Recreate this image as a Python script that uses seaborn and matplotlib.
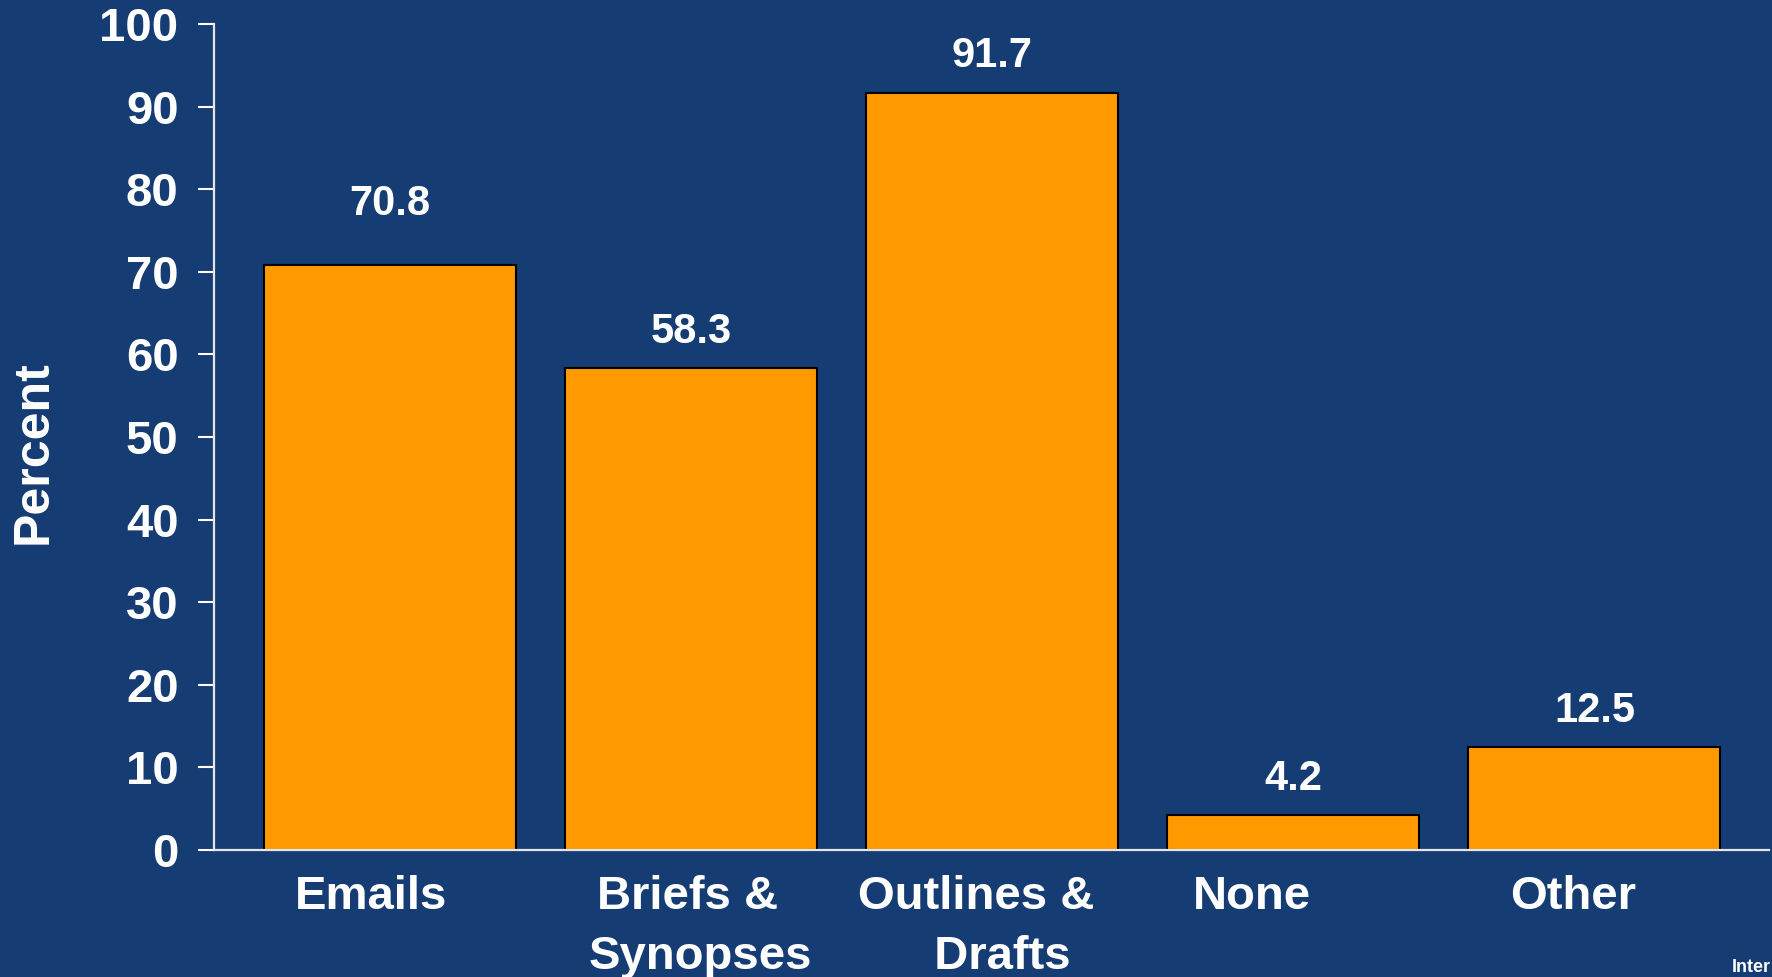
import matplotlib
matplotlib.use("Agg")
import matplotlib.pyplot as plt
import matplotlib.transforms as mtransforms
import seaborn as sns
import pandas as pd

categories = ["Emails", "Briefs &  \nSynopses", "Outlines &  \n  Drafts", "None", "Other"]
values = [70.8, 58.3, 91.7, 4.2, 12.5]
yticks = [0, 10, 20, 30, 40, 50, 60, 70, 80, 90, 100]

BG = "#163C74"
BAR = "#FF9900"

sns.set_theme(style="white")
plt.rcParams["font.family"] = ["Liberation Sans", "DejaVu Sans"]
plt.rcParams["font.weight"] = "bold"

df = pd.DataFrame({"category": categories, "value": values})

fig = plt.figure(figsize=(17.72, 9.77), dpi=100, facecolor=BG)
ax = fig.add_axes([214 / 1772, 127 / 977, 1555 / 1772, 826 / 977])
ax.set_facecolor(BG)

sns.barplot(data=df, x="category", y="value", color=BAR, saturation=1,
            width=0.837, edgecolor="black", linewidth=1.5, ax=ax)

ax.set_ylim(0, 100)
ax.set_xlim(-0.585, 4.58)
ax.set_yticks(yticks)
ax.set_yticklabels([str(t) for t in yticks])

for s in ["top", "right"]:
    ax.spines[s].set_visible(False)
for s in ["left", "bottom"]:
    ax.spines[s].set_color("#e6e6e6")
    ax.spines[s].set_linewidth(1.6)

ax.tick_params(axis="y", colors="white", labelsize=34, length=11.5, width=1.5,
               pad=14, direction="out", left=True)
ax.tick_params(axis="x", colors="white", labelsize=34, length=0, pad=18)
for lab in ax.get_xticklabels() + ax.get_yticklabels():
    lab.set_fontweight("bold")
    lab.set_color("white")

# horizontal nudges of the category labels (points), as in the original slide
label_shift = [-14, 6.5, -2, -30, -15]
for lab, dx in zip(ax.get_xticklabels(), label_shift):
    lab.set_linespacing(1.48)
    lab.set_transform(lab.get_transform() +
                      mtransforms.ScaledTranslation(dx / 72, 0, fig.dpi_scale_trans))

ax.set_xlabel("")
ax.set_ylabel("Percent", fontsize=36, fontweight="bold", color="white")
ax.yaxis.label.set_va("center")
ax.yaxis.set_label_coords(-0.1158, 0.482)

label_offset = [44, 26, 26, 26, 26]
for i, (v, off) in enumerate(zip(values, label_offset)):
    ax.annotate(f"{v:.1f}", xy=(i, v), xytext=(0, off), textcoords="offset points",
                ha="center", va="center", fontsize=30, fontweight="bold", color="white")

fig.text(1732 / 1772, 1 - 968 / 977, "Inter", fontsize=13, fontweight="bold",
         color="white", ha="left", va="center")

fig.savefig("out.png", dpi=100, facecolor=BG)
